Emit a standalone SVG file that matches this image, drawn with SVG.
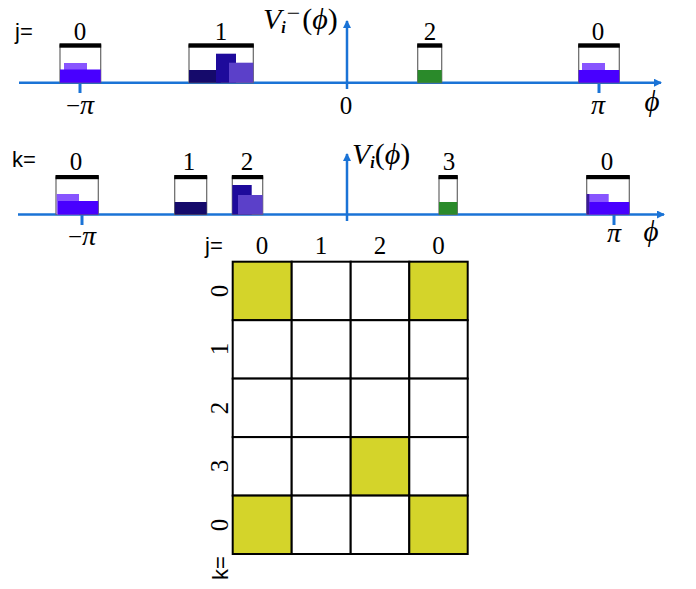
<svg xmlns="http://www.w3.org/2000/svg" width="696" height="589" viewBox="0 0 696 589">
<defs>
<marker id="arr" markerWidth="10" markerHeight="10" refX="7" refY="4" orient="auto" markerUnits="userSpaceOnUse">
<path d="M0,0 L8,4 L0,8 Z" fill="#1a73d6"/>
</marker>
<style>
.ax{stroke:#1a73d6;stroke-width:2.5;fill:none}
.tk{stroke:#1a73d6;stroke-width:3;fill:none}
.box{fill:#fff;stroke:#666;stroke-width:1.2}
.bar{fill:#000}
.lb{font-family:"Liberation Serif",serif;font-size:25px;fill:#000}
.eq{font-family:"Liberation Sans",sans-serif;font-size:22px;fill:#000}
.mi{font-family:"Liberation Serif",serif;font-style:italic;fill:#000}
.bb{fill:#4800ff}
.lp{fill:#8855ff}
.nv{fill:#150a6b}
.db{fill:#1e0a9b}
.mp{fill:#5b40c9}
.gr{fill:#2a8a2a}
.cell{stroke:#000;stroke-width:2}
.y{fill:#d4d42a}
.w{fill:#fff}
</style>
</defs>
<rect width="696" height="589" fill="#fff"/>

<g id="connectors">
<line class="ax" x1="19" y1="82.7" x2="661" y2="82.7" marker-end="url(#arr)"/>
<line class="ax" x1="347" y1="89" x2="347" y2="21" marker-end="url(#arr)"/>
<line class="tk" x1="80" y1="83" x2="80" y2="93"/>
<line class="tk" x1="599" y1="83" x2="599" y2="93"/>
<line class="ax" x1="18" y1="214.5" x2="664" y2="214.5" marker-end="url(#arr)"/>
<line class="ax" x1="347" y1="221" x2="347" y2="154" marker-end="url(#arr)"/>
<line class="tk" x1="82" y1="215" x2="82" y2="225"/>
<line class="tk" x1="614" y1="215" x2="614" y2="225"/>
</g>

<g id="axis-labels">
<text class="eq" x="15" y="39">j=</text>
<text class="lb" x="346" y="114" text-anchor="middle">0</text>
<text class="lb" x="80" y="114" text-anchor="middle">−<tspan class="mi" font-size="28">π</tspan></text>
<text class="mi" x="598" y="114" font-size="28" text-anchor="middle">π</text>
<text class="mi" x="652" y="111" font-size="29" text-anchor="middle">ϕ</text>
<text class="mi" x="263" y="29" font-size="30">V<tspan font-size="16" font-weight="bold" dy="4">i</tspan><tspan font-style="normal" font-size="24" dx="1" dy="-12">−</tspan><tspan font-style="normal" dx="2" dy="8">(</tspan>ϕ<tspan font-style="normal">)</tspan></text>

<text class="eq" x="12" y="167">k=</text>
<text class="lb" x="82" y="245" text-anchor="middle">−<tspan class="mi" font-size="28">π</tspan></text>
<text class="mi" x="614" y="242" font-size="28" text-anchor="middle">π</text>
<text class="mi" x="651" y="241" font-size="29" text-anchor="middle">ϕ</text>
<text class="mi" x="352" y="164" font-size="30">V<tspan font-size="16" font-weight="bold" dy="4">i</tspan><tspan font-style="normal" dy="-4">(</tspan>ϕ<tspan font-style="normal">)</tspan></text>
</g>

<!-- top row boxes -->
<g id="j0-left">
<text class="lb" x="80" y="40" text-anchor="middle">0</text>
<rect class="box" x="60" y="45" width="40.7" height="37.7"/>
<rect class="lp" x="64" y="63" width="23" height="7"/>
<rect class="bb" x="60" y="69.5" width="40.7" height="13.2"/>
<rect class="bar" x="59.5" y="43.3" width="41.7" height="4.4"/>
</g>
<g id="j1">
<text class="lb" x="221" y="40" text-anchor="middle">1</text>
<rect class="box" x="189" y="45" width="64.3" height="37.7"/>
<rect class="nv" x="189" y="70" width="31.7" height="12.7"/>
<rect class="db" x="216" y="53.7" width="20" height="29"/>
<rect class="mp" x="229" y="62.7" width="24.3" height="20"/>
<rect class="bar" x="188.5" y="43.3" width="65.3" height="4.4"/>
</g>
<g id="j2">
<text class="lb" x="430" y="40" text-anchor="middle">2</text>
<rect class="box" x="417.7" y="45" width="24" height="37.7"/>
<rect class="gr" x="417.7" y="70" width="24" height="12.7"/>
<rect class="bar" x="417.2" y="43.3" width="25" height="4.4"/>
</g>
<g id="j0-right">
<text class="lb" x="598" y="40" text-anchor="middle">0</text>
<rect class="box" x="578.7" y="45" width="40.6" height="37.7"/>
<rect class="lp" x="582" y="63" width="23" height="7"/>
<rect class="bb" x="578.7" y="70" width="40.6" height="12.7"/>
<rect class="bar" x="578.2" y="43.3" width="41.6" height="4.4"/>
</g>

<!-- second row boxes -->
<g id="k0-left">
<text class="lb" x="76" y="169.5" text-anchor="middle">0</text>
<rect class="box" x="56" y="177" width="42.3" height="37.5"/>
<rect class="lp" x="56.7" y="194" width="22.3" height="20.5"/>
<rect class="bb" x="58" y="201" width="40.3" height="13.5"/>
<rect class="bar" x="55.5" y="175" width="43.3" height="4.2"/>
</g>
<g id="k1">
<text class="lb" x="189" y="169.5" text-anchor="middle">1</text>
<rect class="box" x="174.7" y="177" width="32" height="37.5"/>
<rect class="nv" x="174.7" y="202" width="32" height="12.5"/>
<rect class="bar" x="174.2" y="175" width="33" height="4.2"/>
</g>
<g id="k2">
<text class="lb" x="247" y="169.5" text-anchor="middle">2</text>
<rect class="box" x="232.3" y="177" width="30.4" height="37.5"/>
<rect class="db" x="232.3" y="185" width="19.4" height="29.5"/>
<rect class="mp" x="238" y="195" width="24.7" height="19.5"/>
<rect class="bar" x="231.8" y="175" width="31.4" height="4.2"/>
</g>
<g id="k3">
<text class="lb" x="449" y="169.5" text-anchor="middle">3</text>
<rect class="box" x="439" y="177" width="18.3" height="37.5"/>
<rect class="gr" x="439" y="202" width="18.3" height="12.5"/>
<rect class="bar" x="438.5" y="175" width="19.3" height="4.2"/>
</g>
<g id="k0-right">
<text class="lb" x="607" y="169.5" text-anchor="middle">0</text>
<rect class="box" x="586.7" y="177" width="42.6" height="37.5"/>
<rect class="lp" x="586.7" y="194" width="22" height="20.5"/>
<rect class="bb" x="589.3" y="202" width="40" height="12.5"/>
<rect fill="#3a1a99" x="586.7" y="194" width="2.6" height="20.5"/>
<rect class="bar" x="586.2" y="175" width="43.6" height="4.2"/>
</g>

<!-- grid -->
<g id="grid-labels">
<text class="eq" x="205" y="253">j=</text>
<text class="lb" x="262" y="254" text-anchor="middle">0</text>
<text class="lb" x="321" y="254" text-anchor="middle">1</text>
<text class="lb" x="380" y="254" text-anchor="middle">2</text>
<text class="lb" x="438.5" y="254" text-anchor="middle">0</text>
<text class="lb" transform="translate(228,291) rotate(-90)" text-anchor="middle" font-size="27">0</text>
<text class="lb" transform="translate(228,349) rotate(-90)" text-anchor="middle" font-size="27">1</text>
<text class="lb" transform="translate(228,408) rotate(-90)" text-anchor="middle" font-size="27">2</text>
<text class="lb" transform="translate(228,466) rotate(-90)" text-anchor="middle" font-size="27">3</text>
<text class="lb" transform="translate(228,525) rotate(-90)" text-anchor="middle" font-size="27">0</text>
<text class="eq" transform="translate(228,568) rotate(-90)" text-anchor="middle" font-size="25">k=</text>
</g>
<g id="grid">
<rect class="cell y" x="232.7" y="261.7" width="59" height="58.5"/>
<rect class="cell w" x="291.7" y="261.7" width="59" height="58.5"/>
<rect class="cell w" x="350.7" y="261.7" width="58.6" height="58.5"/>
<rect class="cell y" x="409.3" y="261.7" width="58.4" height="58.5"/>
<rect class="cell w" x="232.7" y="320.2" width="59" height="58.4"/>
<rect class="cell w" x="291.7" y="320.2" width="59" height="58.4"/>
<rect class="cell w" x="350.7" y="320.2" width="58.6" height="58.4"/>
<rect class="cell w" x="409.3" y="320.2" width="58.4" height="58.4"/>
<rect class="cell w" x="232.7" y="378.6" width="59" height="58.5"/>
<rect class="cell w" x="291.7" y="378.6" width="59" height="58.5"/>
<rect class="cell w" x="350.7" y="378.6" width="58.6" height="58.5"/>
<rect class="cell w" x="409.3" y="378.6" width="58.4" height="58.5"/>
<rect class="cell w" x="232.7" y="437.1" width="59" height="58.5"/>
<rect class="cell w" x="291.7" y="437.1" width="59" height="58.5"/>
<rect class="cell y" x="350.7" y="437.1" width="58.6" height="58.5"/>
<rect class="cell w" x="409.3" y="437.1" width="58.4" height="58.5"/>
<rect class="cell y" x="232.7" y="495.6" width="59" height="58.4"/>
<rect class="cell w" x="291.7" y="495.6" width="59" height="58.4"/>
<rect class="cell w" x="350.7" y="495.6" width="58.6" height="58.4"/>
<rect class="cell y" x="409.3" y="495.6" width="58.4" height="58.4"/>
</g>
</svg>
